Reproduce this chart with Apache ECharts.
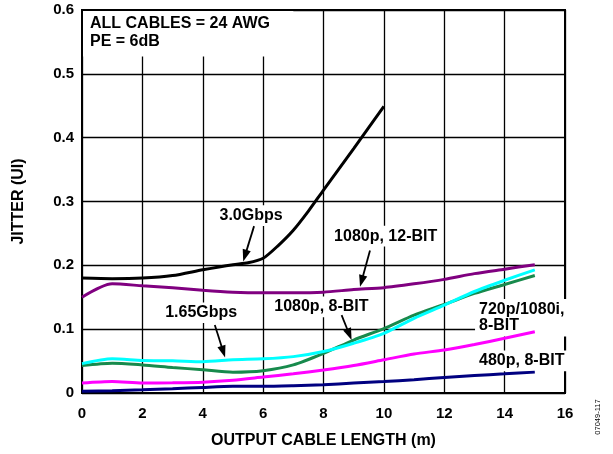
<!DOCTYPE html>
<html><head><meta charset="utf-8">
<script src="https://cdn.jsdelivr.net/npm/echarts@6/dist/echarts.min.js"></script>
<style>html,body{margin:0;padding:0;background:#fff}#c{width:613px;height:454px}</style>
</head><body><div id="c"></div>
<script>
// ---- data ----
const xBlack = [0, 1, 2, 3, 4, 5, 5.5, 6, 6.5, 7, 7.5, 8, 9, 10];
const yBlack = [0.180, 0.179, 0.180, 0.184, 0.193, 0.201, 0.204, 0.211, 0.231, 0.255, 0.285, 0.318, 0.383, 0.449];
const xLen = [0, 1, 2, 3, 4, 5, 6, 7, 8, 9, 10, 11, 12, 13, 14, 15];
const yPurple  = [0.150, 0.171, 0.168, 0.165, 0.161, 0.158, 0.157, 0.157, 0.158, 0.162, 0.165, 0.171, 0.178, 0.187, 0.194, 0.201];
const yCyan    = [0.046, 0.0535, 0.051, 0.0505, 0.049, 0.052, 0.0535, 0.057, 0.065, 0.078, 0.0935, 0.117, 0.1376, 0.159, 0.1766, 0.193];
const yGreen   = [0.043, 0.0468, 0.044, 0.040, 0.0364, 0.0327, 0.035, 0.044, 0.062, 0.083, 0.101, 0.122, 0.1387, 0.156, 0.170, 0.184];
const yMagenta = [0.0156, 0.018, 0.0156, 0.016, 0.017, 0.020, 0.025, 0.030, 0.036, 0.043, 0.052, 0.061, 0.0675, 0.076, 0.0857, 0.096];
const yNavy    = [0.0026, 0.0036, 0.005, 0.0067, 0.0088, 0.0104, 0.0104, 0.0114, 0.013, 0.0156, 0.018, 0.0208, 0.0244, 0.0275, 0.030, 0.0327];
const xTicks = [0, 2, 4, 6, 8, 10, 12, 14, 16];
const yTicks = ['0', '0.1', '0.2', '0.3', '0.4', '0.5', '0.6'];

const FONT = '"Liberation Sans", Arial, Helvetica, sans-serif';
const zip = (xs, ys) => xs.map((x, i) => [x, ys[i]]);

function line(name, xs, ys, color) {
  return {
    name, type: 'line', data: zip(xs, ys), smooth: 0.25, showSymbol: false, symbol: 'none',
    lineStyle: { color, width: 3 }, z: 3, animation: false
  };
}

const chart = echarts.init(document.getElementById('c'), null, { renderer: 'canvas' });
const option = {
  animation: false,
  backgroundColor: '#fff',
  grid: { left: 82, top: 10, right: 48, bottom: 59, show: true, borderColor: '#000', borderWidth: 2, backgroundColor: 'transparent' },
  xAxis: {
    type: 'value', min: 0, max: 16, interval: 2,
    name: 'OUTPUT CABLE LENGTH (m)', nameLocation: 'middle', nameGap: 40,
    nameTextStyle: { fontFamily: FONT, fontWeight: 'bold', fontSize: 16, color: '#000' },
    axisLine: { show: true, lineStyle: { color: '#000', width: 2 } },
    axisTick: { show: false },
    axisLabel: { fontFamily: FONT, fontWeight: 'bold', fontSize: 15, color: '#000', margin: 13,
      formatter: v => String(xTicks[xTicks.indexOf(v)]) },
    splitLine: { show: true, lineStyle: { color: '#000', width: 1.3 } }
  },
  yAxis: {
    type: 'value', min: 0, max: 0.6, interval: 0.1,
    name: 'JITTER (UI)', nameLocation: 'middle', nameGap: 55, nameRotate: 90,
    nameTextStyle: { fontFamily: FONT, fontWeight: 'bold', fontSize: 16, color: '#000' },
    axisLine: { show: true, lineStyle: { color: '#000', width: 2 } },
    axisTick: { show: false },
    axisLabel: { fontFamily: FONT, fontWeight: 'bold', fontSize: 15, color: '#000', margin: 8,
      formatter: v => yTicks[Math.round(v * 10)] },
    splitLine: { show: true, lineStyle: { color: '#000', width: 1.3 } }
  },
  series: [
    line('3.0Gbps', xBlack, yBlack, '#000000'),
    line('1080p, 12-BIT', xLen, yPurple, '#800080'),
    line('1080p, 8-BIT', xLen, yGreen, '#178a4c'),
    line('1.65Gbps', xLen, yCyan, '#00ffff'),
    line('720p/1080i, 8-BIT', xLen, yMagenta, '#ff00ff'),
    line('480p, 8-BIT', xLen, yNavy, '#000080')
  ]
};
chart.setOption(option);

// ---- annotations placed in data coordinates ----
const notes = [
  { text: '3.0Gbps', at: [5.6, 0.278], align: 'center' },
  { text: '1.65Gbps', at: [3.95, 0.1257], align: 'center' },
  { text: '1080p, 8-BIT', at: [7.93, 0.135], align: 'center' },
  { text: '1080p, 12-BIT', at: [10.06, 0.2457], align: 'center' },
  { text: '720p/1080i,\n8-BIT', at: [13.02, 0.118], align: 'left' },
  { text: '480p, 8-BIT', at: [13.02, 0.0504], align: 'left' }
];
const arrows = [
  [[5.70, 0.2614], [5.34, 0.2062]],
  [[4.40, 0.1064], [4.74, 0.0556]],
  [[8.60, 0.122], [8.93, 0.0831]],
  [[9.54, 0.2233], [9.21, 0.1663]]
];
const px = p => chart.convertToPixel({ gridIndex: 0 }, p);
const g = [];

// header box
const b0 = px([0, 0.6]), b1 = px([7, 0.527]);
g.push({ type: 'rect', z: 1, silent: true,
  shape: { x: b0[0] + 1, y: b0[1] + 1, width: b1[0] - b0[0] - 1, height: b1[1] - b0[1] - 1 },
  style: { fill: '#fff', stroke: null } });
const t0 = px([0.265, 0.578]);
g.push({ type: 'text', z: 2, silent: true, x: t0[0], y: t0[1] - 8.8,
  style: { text: 'ALL CABLES = 24 AWG\nPE = 6dB', font: 'bold 16px ' + FONT, fill: '#000',
    textAlign: 'left', textVerticalAlign: 'top', lineHeight: 17.7 } });

notes.forEach(n => {
  const p = px(n.at);
  g.push({ type: 'text', z: 1, silent: true, x: p[0], y: p[1],
    style: { text: n.text, font: 'bold 16px ' + FONT, fill: '#000', textAlign: n.align,
      textVerticalAlign: 'middle', lineHeight: 16.7, backgroundColor: '#fff', padding: [2, 4] } });
});

arrows.forEach(a => {
  const p0 = px(a[0]), p1 = px(a[1]);
  const dx = p1[0] - p0[0], dy = p1[1] - p0[1];
  const L = Math.hypot(dx, dy), ux = dx / L, uy = dy / L;
  const hl = 12, hw = 4.2;
  const bx = p1[0] - ux * hl, by = p1[1] - uy * hl;
  g.push({ type: 'line', z: 5, silent: true,
    shape: { x1: p0[0], y1: p0[1], x2: bx + ux * 1, y2: by + uy * 1 },
    style: { stroke: '#000', lineWidth: 1.8 } });
  g.push({ type: 'polygon', z: 5, silent: true,
    shape: { points: [[p1[0], p1[1]], [bx - uy * hw, by + ux * hw], [bx + uy * hw, by - ux * hw]] },
    style: { fill: '#000' } });
});

g.push({ type: 'text', z: 2, silent: true, x: 598, y: 417, rotation: Math.PI / 2,
  style: { text: '07049-117', font: '7.5px ' + FONT, fill: '#000', textAlign: 'center', textVerticalAlign: 'middle' } });

chart.setOption({ graphic: g });
</script></body></html>
